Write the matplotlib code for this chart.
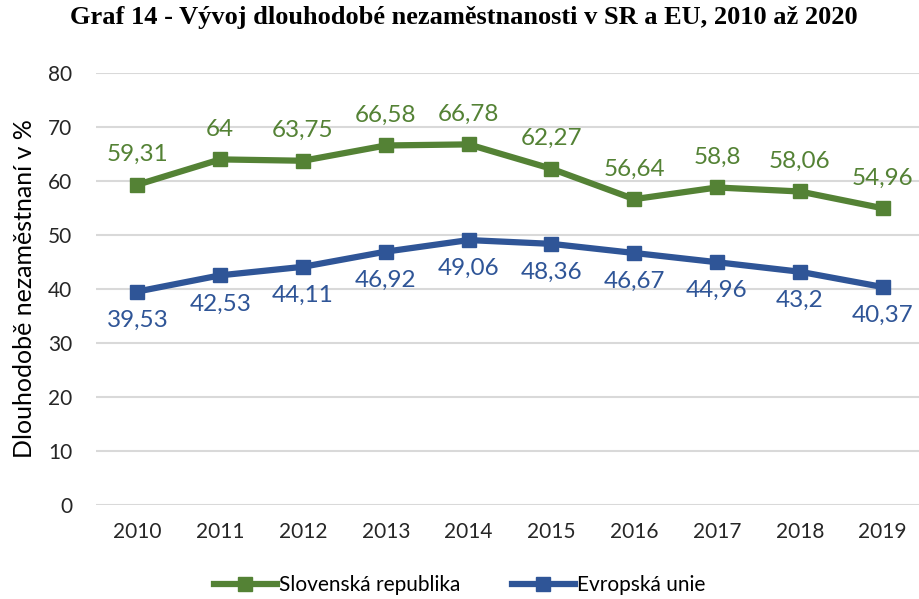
import matplotlib
matplotlib.use("Agg")
import matplotlib.pyplot as plt

years = ["2010", "2011", "2012", "2013", "2014", "2015", "2016", "2017", "2018", "2019"]
sr_values = [59.31, 64, 63.75, 66.58, 66.78, 62.27, 56.64, 58.8, 58.06, 54.96]
eu_values = [39.53, 42.53, 44.11, 46.92, 49.06, 48.36, 46.67, 44.96, 43.2, 40.37]

green = "#548235"
blue = "#2F5597"

plt.rcParams['font.family'] = ['Lato', 'DejaVu Sans']

fig = plt.figure(figsize=(9.19, 5.99), dpi=100)
# plot area runs slightly past the right edge, like the cropped original
ax = fig.add_axes([96 / 919, 94 / 599, 828 / 919, 432 / 599])

x = list(range(len(years)))
ax.plot(x, sr_values, color=green, lw=4.5, marker="s", ms=10, label="Slovenská republika", zorder=3)
ax.plot(x, eu_values, color=blue, lw=4.5, marker="s", ms=10, label="Evropská unie", zorder=3)


def fmt(v):
    s = ("%.2f" % v).rstrip("0").rstrip(".")
    return s.replace(".", ",")


for i, v in enumerate(sr_values):
    ax.annotate(fmt(v), (i, v), xytext=(0, 14), textcoords="offset points",
                ha="center", va="bottom", color=green, fontsize=17.5)
for i, v in enumerate(eu_values):
    ax.annotate(fmt(v), (i, v), xytext=(0, -13), textcoords="offset points",
                ha="center", va="top", color=blue, fontsize=17.5)

ax.set_xlim(-0.5, len(years) - 0.5)
ax.set_ylim(0, 80)
ax.set_yticks(range(0, 81, 10))
ax.set_xticks(x)
ax.set_xticklabels(years)
ax.grid(axis="y", color="#d9d9d9", lw=1.5)
ax.set_axisbelow(True)
for s in ax.spines.values():
    s.set_visible(False)
ax.tick_params(length=0, labelsize=15, colors="#262626", pad=12)
ax.tick_params(axis="y", pad=17)
ax.set_ylabel("Dlouhodobě nezaměstnaní v %", fontsize=18, labelpad=9)

fig.suptitle("Graf 14 - Vývoj dlouhodobé nezaměstnanosti v SR a EU, 2010 až 2020",
             fontfamily="Liberation Serif", fontweight="bold", fontsize=19, x=0.505, y=0.99)

fig.legend(loc="lower center", bbox_to_anchor=(0.5, -0.025), ncol=2, frameon=False,
           fontsize=15, handlelength=3, columnspacing=2.5, handletextpad=0.1)

fig.savefig("out.png", dpi=100)
